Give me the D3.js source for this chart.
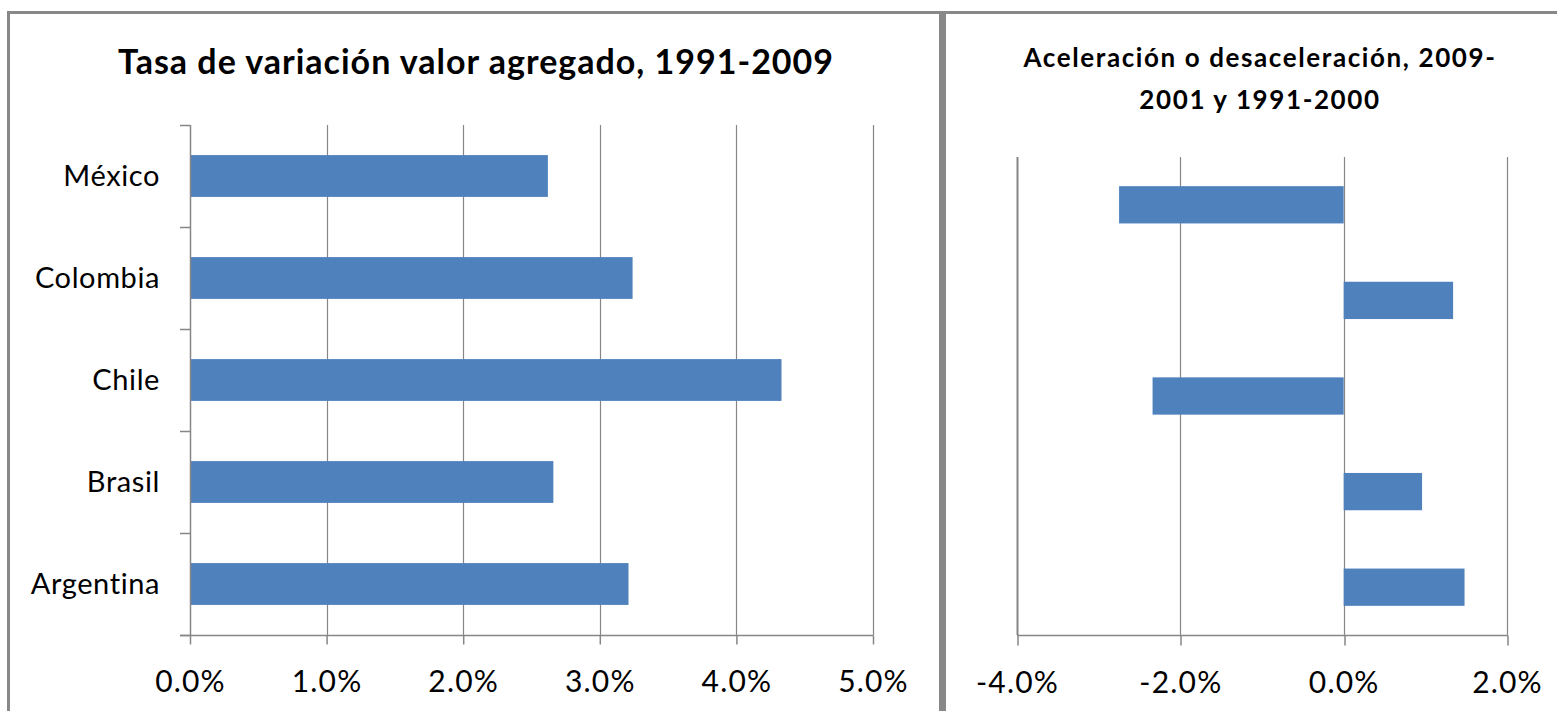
<!DOCTYPE html>
<html><head><meta charset="utf-8">
<script src="https://cdn.jsdelivr.net/npm/d3@7"></script>
<style>
html,body{margin:0;padding:0;background:#fff;}
svg{display:block;}
text{font-family:Lato,"Open Sans",sans-serif;fill:#000;}
</style></head>
<body>
<svg id="c" width="1557" height="711"></svg>
<script>
// Data (top to bottom order)
const categories = ["México", "Colombia", "Chile", "Brasil", "Argentina"];
const growthRate = [0.0262, 0.0324, 0.0433, 0.0266, 0.0321];        // 1991-2009
const acceleration = [-0.0275, 0.0134, -0.0234, 0.0096, 0.0148];    // 2009-2001 vs 1991-2000
const ticksLeft = [0, 0.01, 0.02, 0.03, 0.04, 0.05];
const ticksRight = [-0.04, -0.02, 0, 0.02];
const titleLeft = "Tasa de variación valor agregado, 1991-2009";
const titleRight = ["Aceleración o desaceleración, 2009-", "2001 y 1991-2000"];

const BAR = "#4F81BD", GRID = "#868686", BORDER = "#888888";
const fmt0 = d3.format(".1%");
const fmt = d => fmt0(d).replace("\u2212", "-");
const svg = d3.select("#c");

// Panel borders
svg.append("line").attr("x1", 8.5).attr("x2", 8.5).attr("y1", 11).attr("y2", 711)
  .attr("stroke", BORDER).attr("stroke-width", 3);
svg.append("line").attr("x1", 7).attr("x2", 1557).attr("y1", 12.5).attr("y2", 12.5)
  .attr("stroke", BORDER).attr("stroke-width", 3);
svg.append("line").attr("x1", 942.5).attr("x2", 942.5).attr("y1", 11).attr("y2", 711)
  .attr("stroke", BORDER).attr("stroke-width", 7);

// ---------- Left chart ----------
const xL = d3.scaleLinear().domain([0, 0.05]).range([190, 873]);
const yL = d3.scaleBand().domain(categories).range([125, 635]).paddingInner(0.59).paddingOuter(0.295);
const gL = svg.append("g");

gL.selectAll(".grid").data(ticksLeft.slice(1)).enter().append("line")
  .attr("x1", d => Math.round(xL(d)) + 0.5).attr("x2", d => Math.round(xL(d)) + 0.5)
  .attr("y1", 125).attr("y2", 635).attr("stroke", GRID).attr("stroke-width", 1.2);

gL.selectAll(".bar").data(categories).enter().append("rect")
  .attr("x", xL(0)).attr("y", d => yL(d))
  .attr("width", (d, i) => xL(growthRate[i]) - xL(0))
  .attr("height", yL.bandwidth()).attr("fill", BAR);

const axL = d3.axisBottom(xL).tickValues(ticksLeft).tickFormat(fmt).tickSize(9).tickPadding(26);
const axLg = gL.append("g").attr("transform", "translate(0,635.5)").call(axL);
axLg.select(".domain").remove();
axLg.append("line").attr("x1", 180).attr("x2", 873.5).attr("stroke", GRID).attr("stroke-width", 1.5);
axLg.selectAll(".tick line").attr("stroke", GRID).attr("stroke-width", 1.5);
axLg.selectAll(".tick text").attr("font-size", 30).attr("fill", "#000")
  .style("font-family", "Lato").style("letter-spacing", "1.2px");

const yAxisLine = gL.append("g");
yAxisLine.append("line").attr("x1", 190.5).attr("x2", 190.5).attr("y1", 125).attr("y2", 636)
  .attr("stroke", GRID).attr("stroke-width", 1.5);
const bounds = categories.map(c => yL(c) - yL.step() * yL.paddingInner() / 2).concat([635]);
yAxisLine.selectAll(".ct").data(bounds).enter().append("line")
  .attr("x1", 180).attr("x2", 190).attr("y1", d => Math.round(d) + 0.5).attr("y2", d => Math.round(d) + 0.5)
  .attr("stroke", GRID).attr("stroke-width", 1.5);
gL.selectAll(".cat").data(categories).enter().append("text")
  .attr("x", 160).attr("y", d => yL(d) + yL.bandwidth() / 2)
  .attr("dy", "0.35em").attr("text-anchor", "end").attr("font-size", 29)
  .style("letter-spacing", "0.6px").text(d => d);

svg.append("text").attr("x", 476).attr("y", 74).attr("text-anchor", "middle")
  .attr("font-size", 34).attr("font-weight", "bold").style("letter-spacing", "1px").text(titleLeft);

// ---------- Right chart ----------
const xR = d3.scaleLinear().domain([-0.04, 0.02]).range([1017, 1507]);
const yR = d3.scaleBand().domain(categories).range([157, 635]).paddingInner(0.61).paddingOuter(0.305);
const gR = svg.append("g");

gR.selectAll(".grid").data(ticksRight).enter().append("line")
  .attr("x1", d => Math.round(xR(d)) + 0.5).attr("x2", d => Math.round(xR(d)) + 0.5)
  .attr("y1", 157).attr("y2", 635)
  .attr("stroke", GRID).attr("stroke-width", (d, i) => i === 0 ? 2 : 1.2);

gR.selectAll(".bar").data(categories).enter().append("rect")
  .attr("x", (d, i) => Math.min(xR(0), xR(acceleration[i])))
  .attr("y", d => yR(d))
  .attr("width", (d, i) => Math.abs(xR(acceleration[i]) - xR(0)))
  .attr("height", yR.bandwidth()).attr("fill", BAR);

const axR = d3.axisBottom(xR).tickValues(ticksRight).tickFormat(fmt).tickSize(10).tickPadding(26);
const axRg = gR.append("g").attr("transform", "translate(0,635.5)").call(axR);
axRg.select(".domain").remove();
axRg.append("line").attr("x1", 1017).attr("x2", 1508).attr("stroke", GRID).attr("stroke-width", 1.5);
axRg.selectAll(".tick line").attr("stroke", GRID).attr("stroke-width", 1.5)
  .attr("transform", d => `translate(${Math.round(xR(d)) + 0.5 - xR(d)},0)`);
axRg.selectAll(".tick text").attr("font-size", 30).attr("fill", "#000")
  .style("font-family", "Lato").style("letter-spacing", "1.2px");

svg.append("text").attr("x", 1260).attr("y", 67).attr("text-anchor", "middle")
  .attr("font-size", 26).attr("font-weight", "bold").style("letter-spacing", "1.6px").text(titleRight[0]);
svg.append("text").attr("x", 1260).attr("y", 109).attr("text-anchor", "middle")
  .attr("font-size", 26).attr("font-weight", "bold").style("letter-spacing", "1.6px").text(titleRight[1]);
</script>
</body></html>
